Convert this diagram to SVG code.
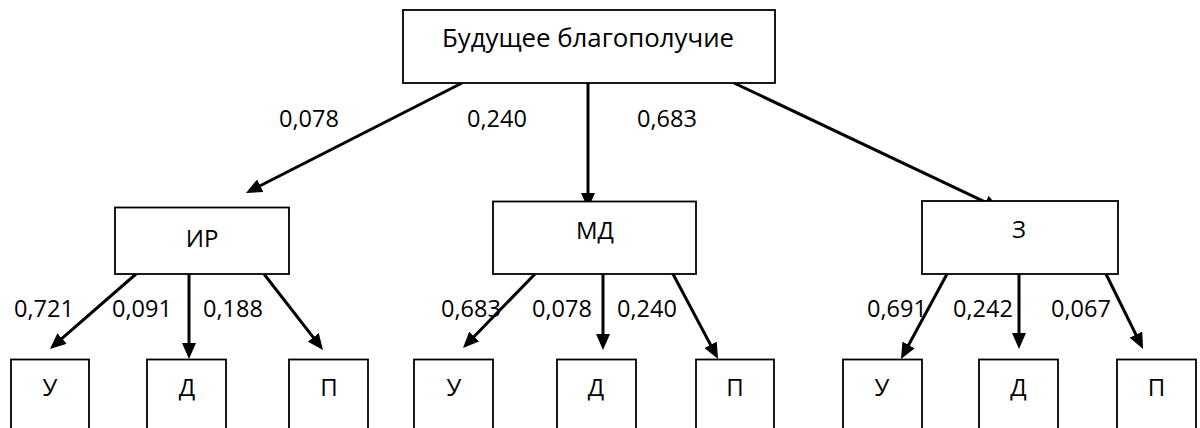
<svg xmlns="http://www.w3.org/2000/svg" width="1200" height="428" viewBox="0 0 1200 428">
<style>
.box{fill:#fff;stroke:#000;stroke-width:1.8}
.t{font-family:"Open Sans","Noto Sans","Liberation Sans",sans-serif;font-size:24px;fill:#000;text-anchor:middle}
.lbl{font-family:"Open Sans","Noto Sans","Liberation Sans",sans-serif;font-size:23.5px;fill:#000}
.ar{stroke:#000;stroke-width:3;fill:none;marker-end:url(#ah)}
</style>
<defs>
<marker id="ah" markerUnits="userSpaceOnUse" markerWidth="16" markerHeight="14" refX="8" refY="7" orient="auto" viewBox="0 0 16 14">
<path d="M0,0 L16,7 L0,14 z" fill="#000"/>
</marker>
</defs>
<rect width="1200" height="428" fill="#fff"/>
<g id="labels">
<text class="lbl" x="279" y="127">0,078</text>
<text class="lbl" x="467" y="127">0,240</text>
<text class="lbl" x="637" y="127">0,683</text>
<text class="lbl" x="14" y="317">0,721</text>
<text class="lbl" x="112" y="317">0,091</text>
<text class="lbl" x="203" y="317">0,188</text>
<text class="lbl" x="441" y="317">0,683</text>
<text class="lbl" x="532" y="317">0,078</text>
<text class="lbl" x="617" y="317">0,240</text>
<text class="lbl" x="867" y="317">0,691</text>
<text class="lbl" x="953" y="317">0,242</text>
<text class="lbl" x="1051" y="317">0,067</text>
</g>
<g id="connectors">
<line class="ar" x1="462" y1="83" x2="253.1" y2="189.4"/>
<line class="ar" x1="588" y1="83" x2="588" y2="201"/>
<line class="ar" x1="734" y1="83" x2="992.8" y2="205.6"/>
<line class="ar" x1="136" y1="274" x2="56" y2="343.7"/>
<line class="ar" x1="189" y1="274" x2="189" y2="351"/>
<line class="ar" x1="264" y1="274" x2="318.1" y2="343.7"/>
<line class="ar" x1="535" y1="274" x2="468.6" y2="342.3"/>
<line class="ar" x1="603" y1="274" x2="603" y2="342"/>
<line class="ar" x1="673" y1="274" x2="714.3" y2="351.9"/>
<line class="ar" x1="947" y1="274" x2="904.8" y2="352"/>
<line class="ar" x1="1019" y1="274" x2="1019" y2="341"/>
<line class="ar" x1="1106" y1="274" x2="1139.5" y2="341.8"/>
</g>
<g id="root"><rect class="box" x="403" y="10" width="372" height="73"/><text class="t" x="588" y="47" style="font-size:25.8px">Будущее благополучие</text></g>
<g id="ir"><rect class="box" x="115" y="207.5" width="174" height="66.5"/><text class="t" x="202" y="247">ИР</text></g>
<g id="md"><rect class="box" x="493" y="201.5" width="203" height="72.5"/><text class="t" x="595" y="239">МД</text></g>
<g id="z"><rect class="box" x="922" y="201" width="196" height="73"/><text class="t" x="1019" y="238">З</text></g>
<g id="ir-u"><rect class="box" x="11" y="359.5" width="78" height="75"/><text class="t" x="50" y="396">У</text></g>
<g id="ir-d"><rect class="box" x="147" y="359.5" width="79" height="75"/><text class="t" x="187" y="396">Д</text></g>
<g id="ir-p"><rect class="box" x="289" y="359.5" width="79" height="75"/><text class="t" x="329" y="396">П</text></g>
<g id="md-u"><rect class="box" x="414" y="359.5" width="79" height="75"/><text class="t" x="454" y="396">У</text></g>
<g id="md-d"><rect class="box" x="557" y="359.5" width="79" height="75"/><text class="t" x="596" y="396">Д</text></g>
<g id="md-p"><rect class="box" x="696" y="359.5" width="78" height="75"/><text class="t" x="735" y="396">П</text></g>
<g id="z-u"><rect class="box" x="843" y="359.5" width="79" height="75"/><text class="t" x="882" y="396">У</text></g>
<g id="z-d"><rect class="box" x="979" y="359.5" width="79" height="75"/><text class="t" x="1018.5" y="396">Д</text></g>
<g id="z-p"><rect class="box" x="1117" y="359.5" width="79" height="75"/><text class="t" x="1156.5" y="396">П</text></g>
</svg>
